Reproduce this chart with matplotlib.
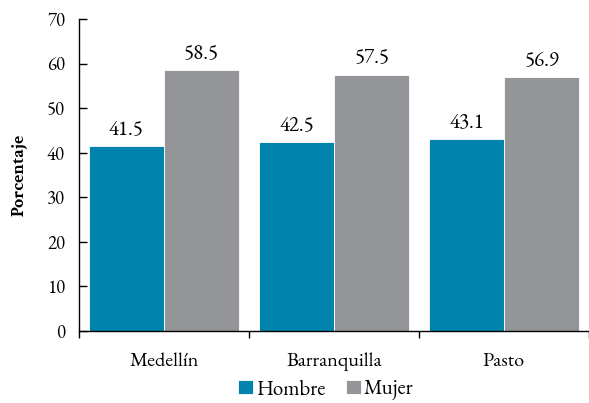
import numpy as np
import matplotlib
matplotlib.use("Agg")
import matplotlib.pyplot as plt

ciudades = ["Medellín", "Barranquilla", "Pasto"]
hombre = [41.5, 42.5, 43.1]
mujer = [58.5, 57.5, 56.9]

plt.rcParams["font.family"] = ["EB Garamond", "DejaVu Serif"]

fig = plt.figure(figsize=(5.89, 4.03), dpi=100)
ax = fig.add_axes([79 / 589, 1 - 331 / 403, 510 / 589, 312 / 403])

x = np.arange(len(ciudades))
w = 0.441
b1 = ax.bar(x - w / 2, hombre, w, color="#0083ac", edgecolor="white", linewidth=0.6, label="Hombre")
b2 = ax.bar(x + w / 2, mujer, w, color="#939598", edgecolor="white", linewidth=0.6, label="Mujer")

for bars, vals in ((b1, hombre), (b2, mujer)):
    for r, v in zip(bars, vals):
        ax.text(r.get_x() + r.get_width() / 2, v + 2.6, f"{v:.1f}",
                ha="center", va="baseline", fontsize=15)

ax.set_xlim(-0.5, 2.5)
ax.set_ylim(0, 70)
ax.set_yticks(range(0, 71, 10))
ax.tick_params(axis="y", direction="in", length=6, labelsize=13.5, width=1, pad=10)
ax.set_xticks(x)
ax.set_xticklabels(ciudades, fontsize=14.5)
ax.tick_params(axis="x", length=0, pad=15)
ax.set_xticks([-0.5, 0.5, 1.5, 2.5], minor=True)
ax.tick_params(axis="x", which="minor", direction="out", length=5, width=1)

for s in ("top", "right"):
    ax.spines[s].set_visible(False)
ax.spines["left"].set_linewidth(1)
ax.spines["bottom"].set_linewidth(1)

ax.set_ylabel("Porcentaje", fontsize=13, fontweight="bold", labelpad=14,
              family=["Crimson Text", "DejaVu Serif"])

fig.legend(loc="lower center", bbox_to_anchor=(0.553, -0.04), ncol=2, frameon=False,
           fontsize=15, handlelength=0.7, handleheight=0.7, handletextpad=0.15,
           columnspacing=1.0)

fig.savefig("out.png", dpi=100)
